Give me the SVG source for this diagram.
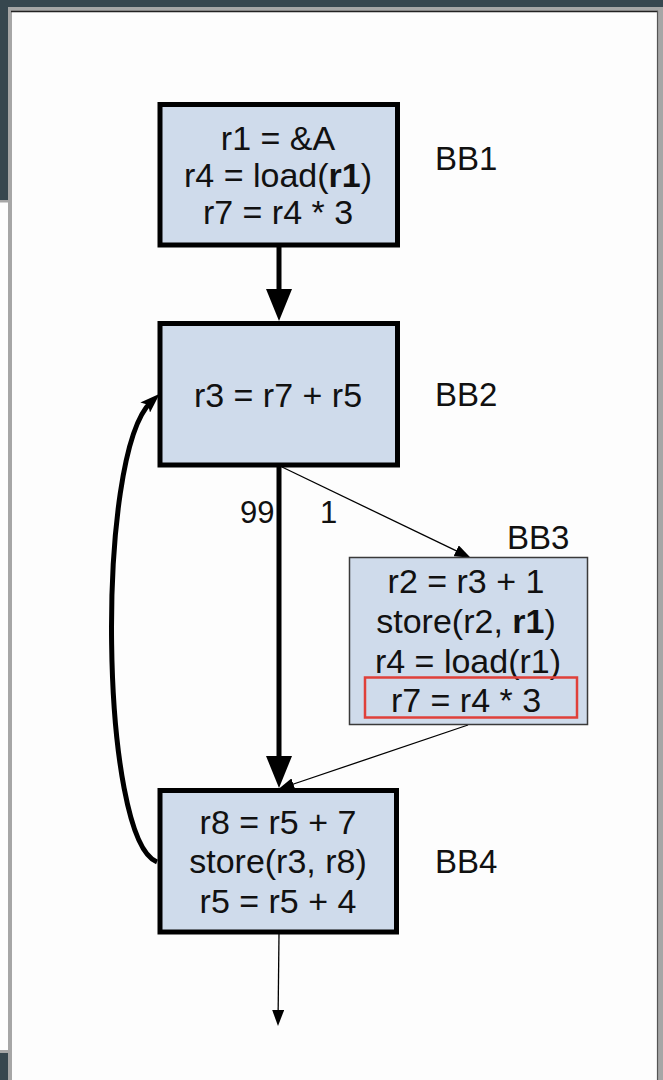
<svg xmlns="http://www.w3.org/2000/svg" width="663" height="1080" viewBox="0 0 663 1080">
  <style>
    .blk { fill: #cfdbeb; stroke: #000; stroke-width: 5; }
    .blk3 { fill: #cfdbeb; stroke: #3a3a3a; stroke-width: 1.5; }
    .hl { fill: none; stroke: #e0403a; stroke-width: 2.5; }
    .code { font-family: "Liberation Sans", Arial, sans-serif; font-size: 34px; fill: #111; text-anchor: middle; }
    .lbl { font-family: "Liberation Sans", Arial, sans-serif; font-size: 33px; fill: #111; }
    .w { font-family: "Liberation Sans", Arial, sans-serif; font-size: 31px; fill: #111; }
    .b { font-weight: bold; }
    .thick { fill: none; stroke: #000; stroke-width: 5; }
    .thin { fill: none; stroke: #000; stroke-width: 1.3; }
  </style>
  <defs>
    <!-- heads drawn past the line end so the stroke never pokes out at the tip -->
    <marker id="bigHead" markerUnits="userSpaceOnUse" viewBox="0 0 32 26" markerWidth="32" markerHeight="26" refX="12" refY="13" orient="auto">
      <path d="M0,0 L32,13 L0,26 z" fill="#000"/>
    </marker>
    <marker id="smallHead" markerUnits="userSpaceOnUse" viewBox="0 0 16 12" markerWidth="16" markerHeight="12" refX="6" refY="6" orient="auto">
      <path d="M0,0 L16,6 L0,12 z" fill="#000"/>
    </marker>
    <marker id="loopHead" markerUnits="userSpaceOnUse" viewBox="0 0 20 14" markerWidth="20" markerHeight="14" refX="8" refY="7" orient="auto">
      <path d="M0,0 L20,7 L0,14 L4,7 z" fill="#000"/>
    </marker>
  </defs>

  <!-- window frame -->
  <rect x="0" y="0" width="663" height="1080" fill="#37474f"/>
  <rect x="8" y="7" width="655" height="1073" fill="#a6a6a6"/>
  <rect x="12" y="12" width="645" height="1068" fill="#fdfdfd"/>
  <line x1="11" y1="11.5" x2="658" y2="11.5" stroke="#222" stroke-width="1.5"/>
  <line x1="657.5" y1="11" x2="657.5" y2="1080" stroke="#555" stroke-width="1.2"/>
  <rect x="0" y="200" width="8" height="853" fill="#a6a6a6"/>
  <rect x="0" y="202.5" width="8" height="847.5" fill="#fdfdfd"/>

  <!-- connectors -->
  <g id="edges">
    <line class="thick" x1="279" y1="247" x2="279" y2="301" marker-end="url(#bigHead)"/>
    <line class="thick" x1="279" y1="467" x2="279" y2="768" marker-end="url(#bigHead)"/>
    <path class="thin" d="M282,467 L461.6,553.4" marker-end="url(#smallHead)"/>
    <path class="thin" d="M468,725 L287.7,786" marker-end="url(#smallHead)"/>
    <line class="thin" x1="279" y1="934" x2="278.1" y2="1016" marker-end="url(#smallHead)"/>
    <path class="thick" d="M157,862 C100,840 95,455 151,402" marker-end="url(#loopHead)"/>
    <text class="w" x="240" y="523">99</text>
    <text class="w" x="320" y="523">1</text>
  </g>

  <g id="bb1">
    <rect class="blk" x="160" y="104.5" width="237.5" height="140.5"/>
    <text class="code" x="278" y="150">r1 = &amp;A</text>
    <text class="code" x="278" y="187">r4 = load(<tspan class="b">r1</tspan>)</text>
    <text class="code" x="278" y="224">r7 = r4 * 3</text>
    <text class="lbl" x="435" y="170">BB1</text>
  </g>

  <g id="bb2">
    <rect class="blk" x="160" y="323.5" width="237.5" height="141.5"/>
    <text class="code" x="278" y="407">r3 = r7 + r5</text>
    <text class="lbl" x="435" y="406">BB2</text>
  </g>

  <g id="bb3">
    <rect class="blk3" x="349.5" y="557.5" width="238" height="167"/>
    <text class="code" x="466" y="593">r2 = r3 + 1</text>
    <text class="code" x="466" y="633">store(r2, <tspan class="b">r1</tspan>)</text>
    <text class="code" x="468" y="673">r4 = load(r1)</text>
    <text class="code" x="466" y="712">r7 = r4 * 3</text>
    <rect class="hl" x="365" y="677.5" width="212" height="40"/>
    <text class="lbl" x="507" y="549">BB3</text>
  </g>

  <g id="bb4">
    <rect class="blk" x="160" y="790.5" width="236.5" height="141.5"/>
    <text class="code" x="278" y="834">r8 = r5 + 7</text>
    <text class="code" x="278" y="873">store(r3, r8)</text>
    <text class="code" x="278" y="913">r5 = r5 + 4</text>
    <text class="lbl" x="435" y="873">BB4</text>
  </g>
</svg>
